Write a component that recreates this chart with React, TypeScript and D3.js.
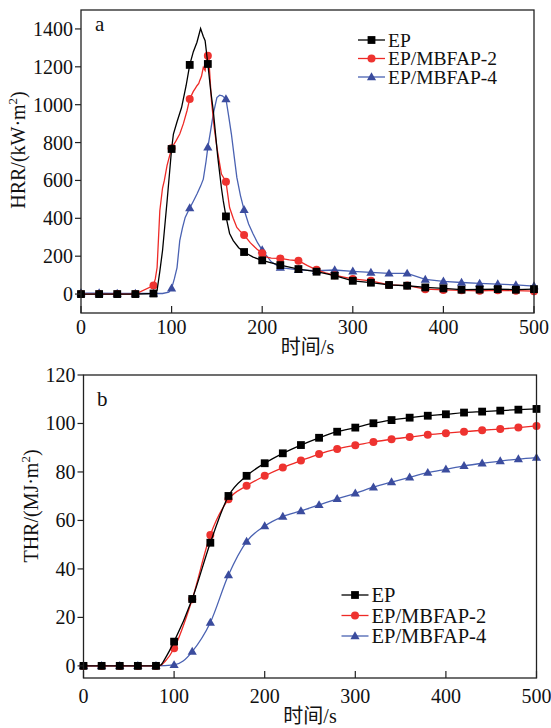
import React from "react";
import * as d3 from "d3";

// ---------- data ----------
const X_TICKS = [0, 100, 200, 300, 400, 500];
const HRR_TICKS = [0, 200, 400, 600, 800, 1000, 1200, 1400];
const THR_TICKS = [0, 20, 40, 60, 80, 100, 120];
const SERIES_NAMES = ["EP", "EP/MBFAP-2", "EP/MBFAP-4"];

const HRR_EP: [number, number][] = [
  [0, 0], [20, 0], [40, 0], [60, 0], [80, 3], [84, 20], [87, 120], [90, 230], [95, 490], [100, 766],
  [102, 845], [106, 910], [111, 985], [116, 1100], [120, 1210], [124, 1280], [128, 1330], [132, 1402],
  [135, 1360], [137, 1338], [140, 1215], [143, 1080], [146, 968], [151, 722], [155, 560], [157, 493],
  [160, 410], [164, 320], [168, 282], [174, 245], [180, 222], [190, 195], [200, 178], [210, 165],
  [220, 153], [240, 132], [260, 118], [280, 97], [300, 70], [320, 60], [340, 48], [360, 44], [380, 35],
  [400, 30], [420, 23], [440, 24], [460, 26], [480, 23], [500, 26],
];
const HRR_MB2: [number, number][] = [
  [0, 0], [20, 0], [40, 0], [60, 0], [80, 45], [82, 80], [84, 140], [87, 440], [90, 560], [92, 600],
  [95, 680], [100, 770], [105, 810], [109, 845], [113, 900], [117, 968], [120, 1030], [124, 1070],
  [126, 1085], [128, 1100], [130, 1112], [131, 1127], [133, 1150], [135, 1197], [137, 1180], [139, 1250],
  [140, 1258], [141, 1250], [144, 1021], [147, 880], [150, 774], [155, 634], [160, 593], [164, 457], [168, 400],
  [172, 352], [176, 330], [180, 312], [187, 270], [194, 238], [200, 215], [205, 195], [210, 190],
  [220, 188], [230, 180], [240, 176], [250, 150], [260, 128], [270, 112], [280, 100], [290, 90],
  [300, 80], [320, 70], [340, 48], [360, 45], [380, 26], [400, 22], [420, 20], [440, 17], [460, 20],
  [480, 18], [500, 15],
];
const HRR_MB4: [number, number][] = [
  [0, 5], [20, 5], [40, 3], [60, 3], [80, 3], [90, 3], [97, 10], [100, 30], [103, 80], [106, 140],
  [109, 282], [112, 350], [115, 405], [120, 454], [124, 490], [128, 528], [132, 570], [135, 607],
  [138, 700], [140, 775], [143, 860], [146, 951], [150, 1038], [153, 1050], [156, 1047], [160, 1030],
  [163, 940], [166, 845], [169, 730], [172, 616], [176, 520], [180, 445], [185, 370], [190, 317],
  [195, 270], [200, 232], [210, 170], [220, 140], [240, 128], [260, 123], [280, 127], [300, 120],
  [320, 114], [340, 109], [360, 109], [380, 77], [400, 67], [420, 61], [440, 56], [460, 53],
  [480, 48], [500, 42],
];

const THR_EP: [number, number][] = [
  [0, 0], [20, 0], [40, 0], [60, 0], [80, 0], [85, 0.3], [90, 3], [100, 10], [120, 27.6], [140, 50.8],
  [160, 70.1], [180, 78.4], [200, 83.6], [220, 87.7], [240, 91.1], [260, 94.1], [280, 96.6], [300, 98.3],
  [320, 100.1], [340, 101.4], [360, 102.4], [380, 103.2], [400, 103.8], [420, 104.5], [440, 104.9],
  [460, 105.3], [480, 105.7], [500, 106.0],
];
const THR_MB2: [number, number][] = [
  [0, 0], [20, 0], [40, 0], [60, 0], [80, 0], [85, 0.2], [90, 1.8], [100, 7.3], [120, 27.5], [140, 54.0],
  [160, 68.7], [180, 74.3], [200, 78.4], [220, 81.8], [240, 84.7], [260, 87.4], [280, 89.5], [300, 91.0],
  [320, 92.4], [340, 93.5], [360, 94.4], [380, 95.3], [400, 96.0], [420, 96.6], [440, 97.2],
  [460, 97.7], [480, 98.3], [500, 99.0],
];
const THR_MB4: [number, number][] = [
  [0, 0], [20, 0], [40, 0], [60, 0], [80, 0], [100, 0.4], [110, 2], [120, 5.9], [140, 17.9], [160, 37.5],
  [180, 51.3], [200, 57.7], [220, 61.6], [240, 63.9], [260, 66.4], [280, 68.9], [300, 71.2], [320, 73.7],
  [340, 75.8], [360, 77.8], [380, 79.7], [400, 81.1], [420, 82.5], [440, 83.6], [460, 84.5],
  [480, 85.3], [500, 85.9],
];

// ---------- styles ----------
const FONT = "'Liberation Serif', 'Times New Roman', serif";
const CJK = "'Noto Sans CJK SC', sans-serif";
const INK = "#111";
const STYLES = [
  { line: "#000000", fill: "#000000", shape: "square" },
  { line: "#ee2a26", fill: "#ee3330", shape: "circle" },
  { line: "#4a62b2", fill: "#3b4c9e", shape: "triangle" },
];

function Marker({ x, y, shape, fill }: { x: number; y: number; shape: string; fill: string }) {
  if (shape === "square") return <rect x={x - 3.9} y={y - 3.9} width={7.8} height={7.8} fill={fill} />;
  if (shape === "circle") return <circle cx={x} cy={y} r={4} fill={fill} />;
  const s = 9.2;
  const h = s * 0.866;
  return (
    <path
      d={`M${x},${y - h * 0.6} L${x + s / 2},${y + h * 0.4} L${x - s / 2},${y + h * 0.4} Z`}
      fill={fill}
    />
  );
}

type PanelProps = {
  left: number; right: number; top: number; bottom: number;
  yDomain: [number, number]; yTicks: number[];
  series: [number, number][][]; curve: any;
  label: string; yLabel: string; yLabelX: number; yLabelY: number;
  xLabelBase: number; xTitleBase: number;
  legendX: number; legendYs: number[]; legendFont: number;
  tagX: number; tagY: number;
};

function Panel(p: PanelProps) {
  const x = d3.scaleLinear().domain([0, 500]).range([p.left, p.right]);
  const y = d3.scaleLinear().domain(p.yDomain).range([p.bottom, p.top]);
  const line = d3.line<[number, number]>().x((d) => x(d[0])).y((d) => y(d[1])).curve(p.curve);
  const order = [2, 1, 0];
  return (
    <g>
      {order.map((i) => (
        <g key={i}>
          <path d={line(p.series[i]) || ""} fill="none" stroke={STYLES[i].line} strokeWidth={1.3} />
          {p.series[i]
            .filter((d) => d[0] % 20 === 0)
            .map((d, j) => (
              <Marker key={j} x={x(d[0])} y={y(d[1])} shape={STYLES[i].shape} fill={STYLES[i].fill} />
            ))}
        </g>
      ))}
      <rect x={p.left} y={p.top} width={p.right - p.left} height={p.bottom - p.top} fill="none" stroke="#222" strokeWidth={1.3} />
      {X_TICKS.map((t) => (
        <g key={t}>
          <line x1={x(t)} x2={x(t)} y1={p.bottom} y2={p.bottom - 7} stroke="#222" strokeWidth={1.2} />
          <text x={x(t)} y={p.xLabelBase} textAnchor="middle" fontFamily={FONT} fontSize={20} fill={INK}>{t}</text>
        </g>
      ))}
      {p.yTicks.map((t) => (
        <g key={t}>
          <line x1={p.left - 6} x2={p.left} y1={y(t)} y2={y(t)} stroke="#222" strokeWidth={1.2} />
          <text x={p.left - 8} y={y(t)} dy="0.35em" textAnchor="end" fontFamily={FONT} fontSize={20} fill={INK}>{t}</text>
        </g>
      ))}
      <text x={(p.left + p.right) / 2} y={p.xTitleBase} textAnchor="middle" fontSize={20} fill={INK}>
        <tspan fontFamily={CJK}>时间</tspan>
        <tspan fontFamily={FONT}>/s</tspan>
      </text>
      <text transform={`translate(${p.yLabelX},${p.yLabelY}) rotate(-90)`} textAnchor="middle" fontFamily={FONT} fontSize={20} fill={INK}>
        {p.yLabel}
        <tspan fontSize={13} dy={-8}>2</tspan>
        <tspan dy={8}>)</tspan>
      </text>
      <text x={p.tagX} y={p.tagY} fontFamily={FONT} fontSize={21} fill={INK}>{p.label}</text>
      {SERIES_NAMES.map((name, i) => (
        <g key={name}>
          <line x1={p.legendX} x2={p.legendX + 27} y1={p.legendYs[i]} y2={p.legendYs[i]} stroke={STYLES[i].line} strokeWidth={1.3} />
          <Marker x={p.legendX + 13.5} y={p.legendYs[i]} shape={STYLES[i].shape} fill={STYLES[i].fill} />
          <text x={p.legendX + 30} y={p.legendYs[i]} dy="0.35em" fontFamily={FONT} fontSize={p.legendFont} fill={INK}>{name}</text>
        </g>
      ))}
    </g>
  );
}

export default function App() {
  return (
    <svg width={551} height={728} style={{ position: "absolute", left: 0, top: 0, background: "#fff" }}>
      <rect width={551} height={728} fill="#fff" />
      <Panel
        left={81} right={534} top={10} bottom={313}
        yDomain={[-100, 1500]} yTicks={HRR_TICKS}
        series={[HRR_EP, HRR_MB2, HRR_MB4]} curve={d3.curveLinear}
        label="a" yLabel="HRR/(kW·m" yLabelX={25} yLabelY={150}
        xLabelBase={334} xTitleBase={354}
        legendX={358} legendYs={[40, 58.5, 77]} legendFont={19.5}
        tagX={95} tagY={31}
      />
      <Panel
        left={83.5} right={536.5} top={375} bottom={678}
        yDomain={[-5, 120]} yTicks={THR_TICKS}
        series={[THR_EP, THR_MB2, THR_MB4]} curve={d3.curveMonotoneX}
        label="b" yLabel="THR/(MJ·m" yLabelX={38} yLabelY={506}
        xLabelBase={703} xTitleBase={723}
        legendX={341.5} legendYs={[595, 615.5, 636]} legendFont={20.5}
        tagX={97} tagY={406}
      />
    </svg>
  );
}
